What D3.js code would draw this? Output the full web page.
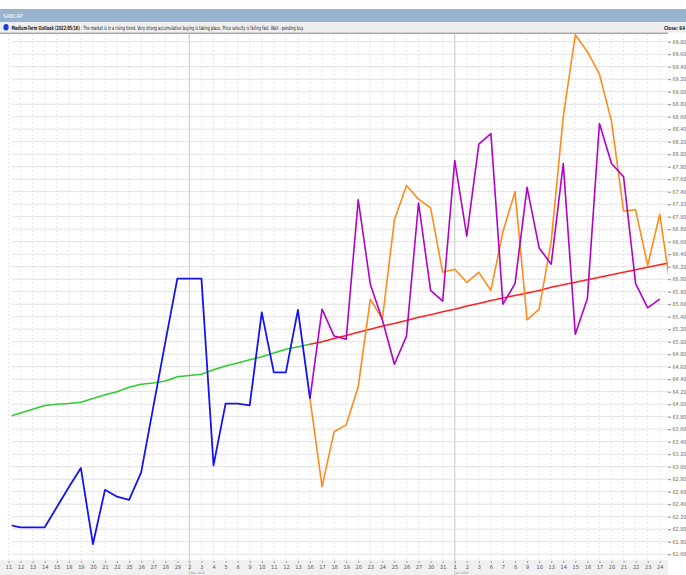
<!DOCTYPE html>
<html lang="en">
  <head>
    <meta charset="utf-8">
    <title>SABCAP Medium-Term Outlook</title>
    <script src="https://cdn.jsdelivr.net/npm/d3@7/dist/d3.min.js"></script>
    <style>
      body { margin: 0; background: #fff; }
      text { font-family: "Liberation Sans Narrow", "DejaVu Sans Condensed", "Liberation Sans", sans-serif; }
    </style>
  </head>
  <body>
    <div id="chart"></div>
    <script type="text/javascript">
      // trading-day labels along the bottom
      const dayLabels = ["11", "12", "13", "14", "15", "18", "19", "20", "21", "22",
                         "25", "26", "27", "28", "29", "2", "3", "4", "5", "6",
                         "9", "10", "11", "12", "13", "16", "17", "18", "19", "20",
                         "23", "24", "25", "26", "27", "30", "31", "1", "2", "3",
                         "6", "7", "8", "9", "10", "13", "14", "15", "16", "17",
                         "20", "21", "22", "23", "24"];
      const monthMarks = [{ i: 15, label: "May 2022" }, { i: 37, label: "Jun 2022" }];

      // history (index 0..25)
      const closeHist = [62.07, 62.03, 62.03, 62.03, 62.35, 62.67, 62.98, 61.76, 62.63, 62.52,
                         62.47, 62.91, 63.95, 64.99, 66.01, 66.01, 66.01, 63.02, 64.01, 64.01,
                         63.98, 65.47, 64.51, 64.51, 65.51, 64.09];
      const maHist = [63.80, 63.86, 63.92, 63.98, 64.00, 64.01, 64.03, 64.09, 64.15, 64.20,
                      64.27, 64.32, 64.34, 64.37, 64.44, 64.46, 64.48, 64.55, 64.61, 64.66,
                      64.71, 64.76, 64.82, 64.88, 64.92, 64.96];

      // projections start at index 25
      const trendProj = [64.96, 65.00, 65.05, 65.10, 65.15, 65.20, 65.25, 65.29, 65.34, 65.39,
                         65.43, 65.48, 65.52, 65.57, 65.61, 65.66, 65.70, 65.74, 65.78, 65.82,
                         65.87, 65.91, 65.95, 65.99, 66.03, 66.07, 66.11, 66.15, 66.19, 66.23,
                         66.27];
      const purpleProj = [64.09, 65.52, 65.09, 65.04, 67.27, 65.92, 65.35, 64.64, 65.09, 67.22,
                          65.82, 65.65, 67.90, 66.69, 68.16, 68.33, 65.60, 65.93, 67.47, 66.50,
                          66.24, 67.85, 65.12, 65.69, 68.49, 67.85, 67.64, 65.93, 65.54, 65.68];
      const orangeProj = [64.09, 62.68, 63.56, 63.67, 64.28, 65.68, 65.36, 66.95, 67.50, 67.28,
                          67.14, 66.11, 66.16, 65.95, 66.11, 65.82, 66.76, 67.40, 65.35, 65.52,
                          66.60, 68.60, 69.91, 69.64, 69.28, 68.53, 67.09, 67.11, 66.22, 67.04,
                          65.73];
      const projStart = 25;

      const yTicks = d3.range(0, 42).map(k => +(61.6 + k * 0.2).toFixed(2));

      function Outlook() {
          let svgWidth = 686, svgHeight = 575;
          let plot = { left: 11.7, right: 668, top: 34, bottom: 560 };

          let svg = d3.select("#chart")
              .append("svg")
              .attr("width", svgWidth)
              .attr("height", svgHeight);

          let xScale = d3.scaleLinear()
              .domain([0, 55])
              .range([8.5, 8.5 + 55 * 12.06]);

          let yScale = d3.scaleLinear()
              .domain([61.6, 69.8])
              .range([554.2, 41.7]);

          // squeeze a text horizontally so it spans `width` px from (x, y)
          function fitText(sel, x, y, width) {
              let w = sel.node().getComputedTextLength();
              sel.attr("transform", `translate(${x}, ${y}) scale(${width / w}, 1)`);
              return sel;
          }

          // header bars
          svg.append("rect").attr("x", 0).attr("y", 9).attr("width", svgWidth).attr("height", 13)
              .attr("fill", "#98b3d0");
          svg.append("text").attr("x", 3).attr("y", 18)
              .attr("font-size", 5.5).attr("fill", "#fff").text("SABCAP");
          svg.append("rect").attr("x", 0).attr("y", 22).attr("width", svgWidth).attr("height", 10.5)
              .attr("fill", "#efefef");
          svg.append("ellipse").attr("cx", 6).attr("cy", 27.3).attr("rx", 2.6).attr("ry", 3.3)
              .attr("fill", "#1a3fe0");
          let info = svg.append("text")
              .attr("font-size", 5.8).attr("fill", "#222");
          info.append("tspan").attr("font-weight", "bold")
              .text("Medium-Term Outlook (2022/05/16)");
          info.append("tspan")
              .text(" : The market is in a rising trend. Very strong accumulative buying is taking place. Price velocity is falling fast. Wait - pending buy.");
          fitText(info, 11.5, 29.5, 293);

          let close = svg.append("text")
              .attr("font-size", 5.4).attr("font-weight", "bold").attr("fill", "#222")
              .text("Close: 64");
          fitText(close, 664, 29.5, 21);

          svg.append("rect").attr("x", 0).attr("y", 32.5).attr("width", plot.right).attr("height", 1.5)
              .attr("fill", "#a8a8a8");

          // bottom axis band
          svg.append("rect").attr("x", 0).attr("y", plot.bottom).attr("width", plot.right)
              .attr("height", svgHeight - plot.bottom).attr("fill", "#f0f0f0");

          // grid
          let grid = svg.append("g").attr("class", "grid");
          grid.selectAll("line.h")
              .data(yTicks)
              .enter().append("line")
              .attr("class", "h")
              .attr("x1", plot.left).attr("x2", plot.right)
              .attr("y1", d => yScale(d)).attr("y2", d => yScale(d))
              .attr("stroke", "#e2e2e2").attr("stroke-width", 1);
          grid.selectAll("line.v")
              .data(d3.range(dayLabels.length))
              .enter().append("line")
              .attr("class", "v")
              .attr("x1", d => xScale(d)).attr("x2", d => xScale(d))
              .attr("y1", plot.top).attr("y2", plot.bottom)
              .attr("stroke", "#e0e0e0").attr("stroke-width", 0.8)
              .attr("stroke-dasharray", "2,2");
          grid.selectAll("line.m")
              .data(monthMarks)
              .enter().append("line")
              .attr("class", "m")
              .attr("x1", d => xScale(d.i)).attr("x2", d => xScale(d.i))
              .attr("y1", plot.top).attr("y2", svgHeight)
              .attr("stroke", "#d4d4d4").attr("stroke-width", 1.2);

          // axes
          let xAxis = d3.axisBottom(xScale)
              .tickValues(d3.range(dayLabels.length))
              .tickFormat(i => dayLabels[i])
              .tickSize(2).tickPadding(2);
          let gx = svg.append("g")
              .attr("class", "x-axis")
              .attr("transform", `translate(0, ${plot.bottom + 1})`)
              .call(xAxis);
          gx.select(".domain").remove();
          gx.selectAll(".tick line").attr("stroke", "#999");
          gx.selectAll(".tick text").attr("font-size", 5.6).attr("fill", "#555")
              .attr("font-family", null);

          svg.selectAll("text.month")
              .data(monthMarks)
              .enter().append("text")
              .attr("class", "month")
              .attr("x", d => xScale(d.i) + 1)
              .attr("y", 574)
              .attr("font-size", 3.2).attr("fill", "#888")
              .text(d => d.label);

          let yAxis = d3.axisRight(yScale)
              .tickValues(yTicks)
              .tickFormat(d3.format(".2f"))
              .tickSize(3).tickPadding(1.5);
          let gy = svg.append("g")
              .attr("class", "y-axis")
              .attr("transform", `translate(${plot.right}, 0)`)
              .call(yAxis);
          gy.select(".domain").remove();
          gy.selectAll(".tick line").attr("stroke", "#888");
          gy.selectAll(".tick text").attr("font-size", 5.4).attr("fill", "#666")
              .attr("font-family", null);

          // series
          svg.append("clipPath").attr("id", "plot-clip")
              .append("rect")
              .attr("x", plot.left).attr("y", plot.top)
              .attr("width", plot.right - plot.left).attr("height", plot.bottom - plot.top);

          let lines = svg.append("g").attr("clip-path", "url(#plot-clip)");
          let line = d3.line()
              .x(d => xScale(d.i))
              .y(d => yScale(d.v));
          let toPts = (arr, start) => arr.map((v, k) => ({ i: start + k, v: v }));

          let series = [
              { data: toPts(maHist, 0), color: "#2ecc2e", width: 1.5 },
              { data: toPts(trendProj, projStart), color: "#ff2020", width: 1.6 },
              { data: toPts(orangeProj, projStart), color: "#ff8c1a", width: 1.6 },
              { data: toPts(purpleProj, projStart), color: "#b400c8", width: 1.6 },
              { data: toPts(closeHist, 0), color: "#1414f0", width: 1.8 }
          ];

          lines.selectAll("path")
              .data(series)
              .enter().append("path")
              .attr("fill", "none")
              .attr("stroke", d => d.color)
              .attr("stroke-width", d => d.width)
              .attr("stroke-linejoin", "round")
              .attr("d", d => line(d.data));
      }

      Outlook();
    </script>
  </body>
</html>
